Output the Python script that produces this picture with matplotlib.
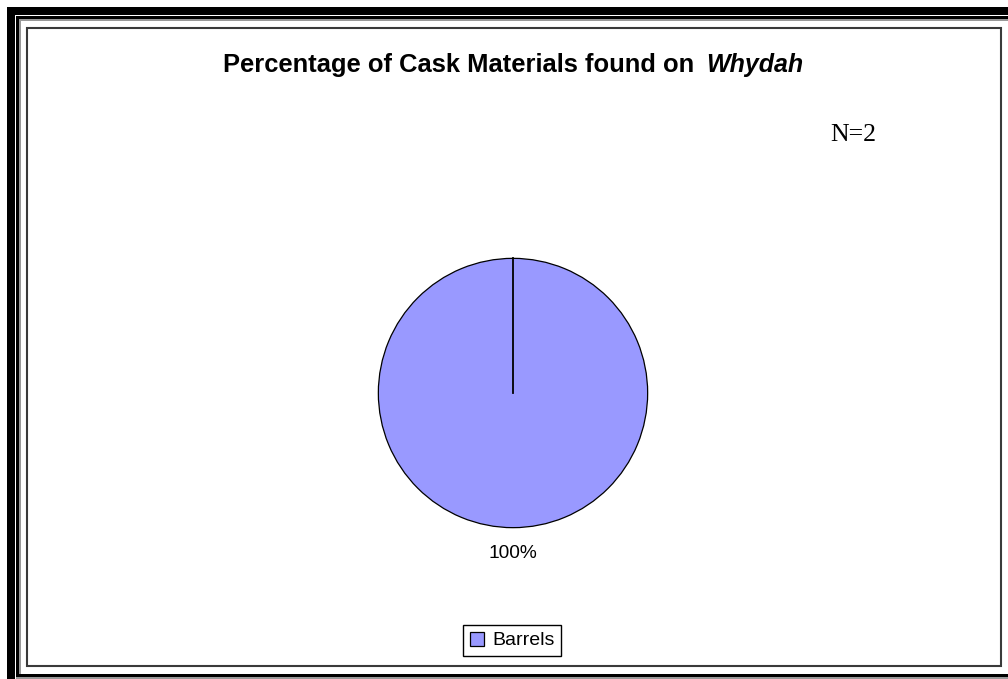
import matplotlib
matplotlib.use("Agg")
import matplotlib.pyplot as plt
from matplotlib.patches import Rectangle, Patch
import numpy as np

# data
categories = ["Barrels"]
values = [2]
pct_labels = ["100%"]
title_main = "Percentage of Cask Materials found on "
title_ital = "Whydah"
n_note = "N=2"

W, H, DPI = 1008, 679, 100
fig = plt.figure(figsize=(W / DPI, H / DPI), dpi=DPI)
fig.patch.set_facecolor("white")

# background frame axes in pixel coords
bg = fig.add_axes([0, 0, 1, 1], zorder=0)
bg.set_xlim(0, W)
bg.set_ylim(H, 0)
bg.axis("off")
# outer thick border
bg.add_patch(Rectangle((7, 7), W + 20, 8, facecolor="black", edgecolor="none"))
bg.add_patch(Rectangle((7, 7), 8, H + 20, facecolor="black", edgecolor="none"))
# thin inner lines of the double border
bg.add_patch(Rectangle((16, 16), W, 2.5, facecolor="black", edgecolor="none"))
bg.add_patch(Rectangle((16, 16), 2.5, H, facecolor="black", edgecolor="none"))
bg.add_patch(Rectangle((19, 19), W, 1.5, facecolor="#999999", edgecolor="none"))
bg.add_patch(Rectangle((19, 19), 1.5, H, facecolor="#999999", edgecolor="none"))
bg.add_patch(Rectangle((16, 674), W, 3.2, facecolor="black", edgecolor="none"))
bg.add_patch(Rectangle((16, 677), W, 2, facecolor="#999999", edgecolor="none"))
# chart area box
bg.add_patch(Rectangle((27, 28), 974, 638, facecolor="white",
                       edgecolor="#3a3a3a", linewidth=1.5))

# title (bold + bold italic)
fig.text(223 / W, 1 - 72 / H, title_main, fontsize=18.4, fontweight="bold",
         family="Liberation Sans", ha="left", va="baseline")
fig.text(706 / W, 1 - 72 / H, title_ital, fontsize=18.0, fontweight="bold",
         fontstyle="italic", family="Liberation Sans", ha="left", va="baseline")

fig.text(830 / W, 1 - 141 / H, n_note, fontsize=18.5,
         family="Liberation Serif", ha="left", va="baseline")

# pie
cx, cy, r = 513, 393, 136
ax = fig.add_axes([(cx - r) / W, 1 - (cy + r) / H, 2 * r / W, 2 * r / H], zorder=2)
start = 90
wedges, texts = ax.pie(values, labels=pct_labels, colors=["#9999ff"],
                       startangle=start, counterclock=False, radius=1,
                       labeldistance=1.19,
                       wedgeprops=dict(edgecolor="black", linewidth=0.9),
                       textprops=dict(fontsize=13.8, family="Liberation Sans"))
for t in texts:
    t.set_ha("center")
# radial edge of the single full wedge
ax.plot([0, np.cos(np.radians(start))], [0, np.sin(np.radians(start))],
        color="black", linewidth=1.3)
ax.set_xlim(-1.01, 1.01)
ax.set_ylim(-1.01, 1.01)
ax.axis("off")

handles = [Patch(facecolor="#9999ff", edgecolor="black", linewidth=0.9, label=c)
           for c in categories]
fig.legend(handles=handles, loc="center",
           bbox_to_anchor=(512 / W, 1 - 640.5 / H),
           bbox_transform=fig.transFigure,
           fancybox=False, shadow=False, framealpha=1, edgecolor="black",
           prop=dict(family="Liberation Sans", size=14),
           handlelength=0.75, handleheight=0.75, handletextpad=0.4,
           borderpad=0.35, borderaxespad=0)

fig.savefig("out.png", dpi=DPI)
